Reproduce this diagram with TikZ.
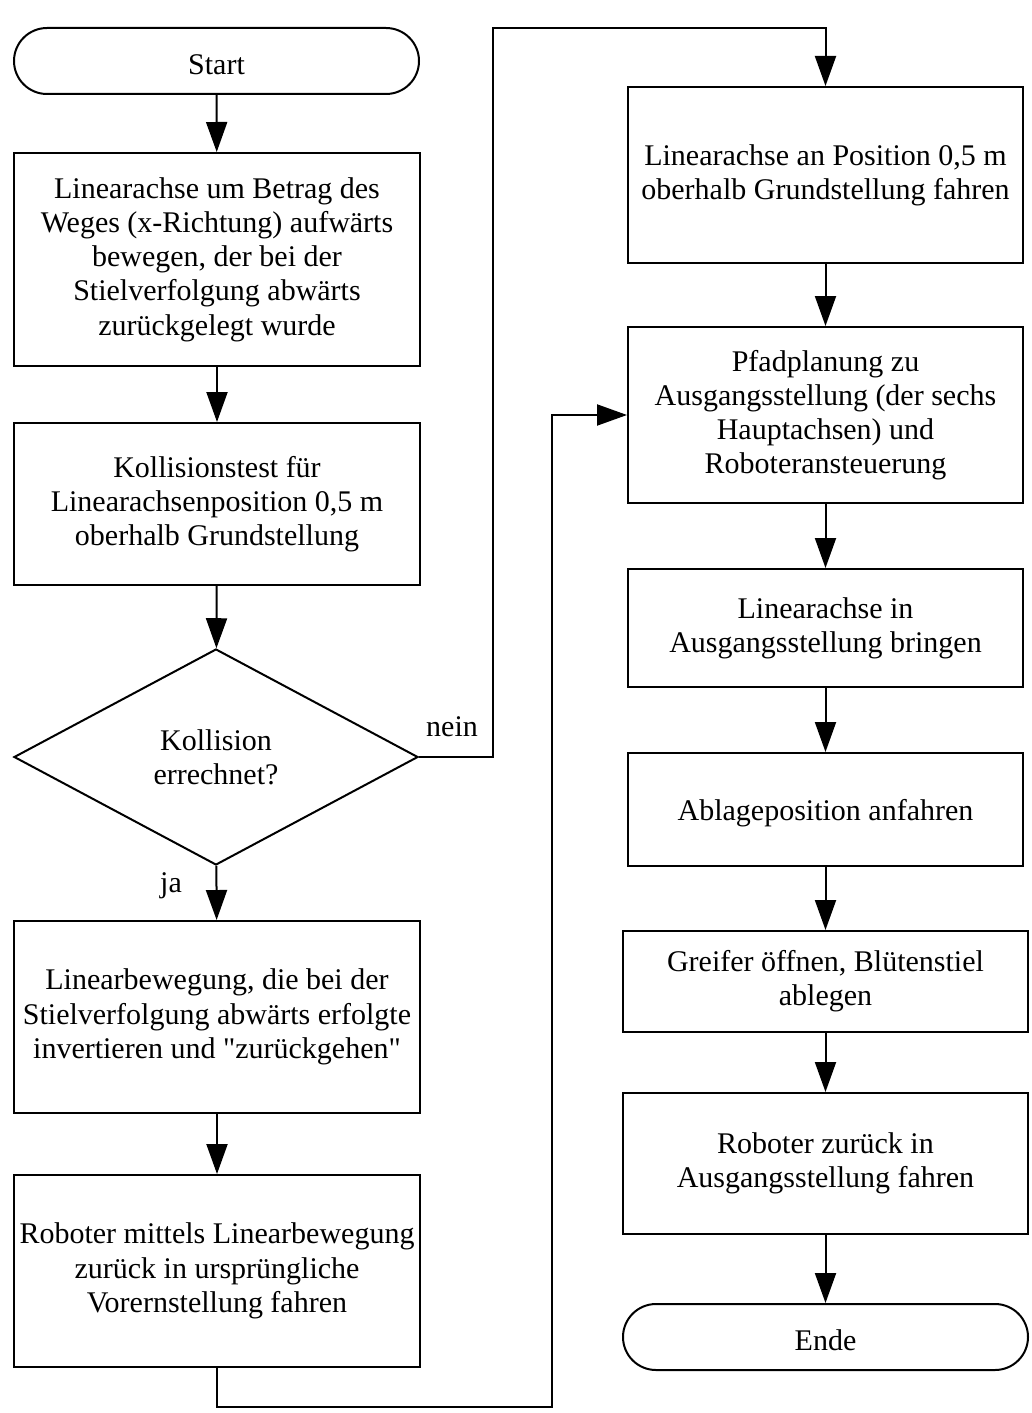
\documentclass[tikz,border=0pt]{standalone}
\usepackage{fontspec}
\setmainfont{Liberation Serif}[Ligatures=TeXOff]
\usetikzlibrary{shapes.geometric,arrows.meta}

\begin{document}
\begin{tikzpicture}[%show background rectangle,
        x=0.5pt, y=-0.5pt,
        font=\fontsize{15}{17.1}\selectfont,
        line width=1pt,
        >={Triangle[width=10.5pt,length=15pt]}, % Voreinstellung für Pfeilspitzen
        hoch/.style={execute at begin node={\rule{0pt}{14pt}}},
        block/.style={draw, rectangle, align=center, inner sep=2pt, hoch},
        terminal/.style={draw, rectangle, rounded corners=16.5pt, align=center, hoch,
            minimum width=202.5pt, minimum height=33pt},
        entscheidung/.style={draw, diamond, align=center, inner sep=0pt, hoch,
            minimum width=202pt, minimum height=108pt}
        ]
            \useasboundingbox (0,0) rectangle (1032,1413);

            % linke Spalte
            \node (start) [terminal] at (216.5,61) {Start};
            \node (b1) [block, minimum width=203pt, minimum height=106.5pt] at (217,259.5)
                {Linearachse um Betrag des\\Weges (x-Richtung) aufwärts\\bewegen, der bei der\\Stielverfolgung abwärts\\zurückgelegt wurde};
            \node (b2) [block, minimum width=203pt, minimum height=81pt] at (217,504)
                {Kollisionstest für\\Linearachsenposition 0,5 m\\oberhalb Grundstellung};
            \node (kol) [entscheidung] at (216,757) {Kollision\\errechnet?};
            \node (b3) [block, minimum width=203pt, minimum height=96pt] at (217,1017)
                {Linearbewegung, die bei der\\Stielverfolgung abwärts erfolgte\\invertieren und "zurückgehen"};
            \node (b4) [block, minimum width=203pt, minimum height=96pt] at (217,1271)
                {Roboter mittels Linearbewegung\\zurück in ursprüngliche\\Vorernstellung fahren};

            % rechte Spalte
            \node (r1) [block, minimum width=197.5pt, minimum height=88pt] at (825.5,175)
                {Linearachse an Position 0,5 m\\oberhalb Grundstellung fahren};
            \node (r2) [block, minimum width=197.5pt, minimum height=88pt] at (825.5,415)
                {Pfadplanung zu\\Ausgangsstellung (der sechs\\Hauptachsen) und\\Roboteransteuerung};
            \node (r3) [block, minimum width=197.5pt, minimum height=59pt] at (825.5,628)
                {Linearachse in\\Ausgangsstellung bringen};
            \node (r4) [block, minimum width=197.5pt, minimum height=56.5pt] at (825.5,809.5)
                {Ablageposition anfahren};
            \node (r5) [block, minimum width=202.5pt, minimum height=50.5pt] at (825.5,981.5)
                {Greifer öffnen, Blütenstiel\\ablegen};
            \node (r6) [block, minimum width=202.5pt, minimum height=70.5pt] at (825.5,1163.5)
                {Roboter zurück in\\Ausgangsstellung fahren};
            \node (ende) [terminal] at (825.5,1337) {Ende};

            % Hilfspunkte
            \coordinate (oben) at (493,28);
            \coordinate (unten) at (552,1407);

            % Verbindungen
            \draw [->] (start) -- (b1);
            \draw [->] (b1) -- (b2);
            \draw [->] (b2) -- (kol);
            \draw [->] (kol) -- (b3);
            \draw [->] (b3) -- (b4);
            \draw [->] (kol.east) -| (oben) -| (r1.north);
            \draw [->] (b4.south) |- (unten) |- (r2.west);
            \draw [->] (r1) -- (r2);
            \draw [->] (r2) -- (r3);
            \draw [->] (r3) -- (r4);
            \draw [->] (r4) -- (r5);
            \draw [->] (r5) -- (r6);
            \draw [->] (r6) -- (ende);

            \node (nein) at (452,727) {nein};
            \node (ja) at (171,886) {ja};

        \end{tikzpicture}
\end{document}
